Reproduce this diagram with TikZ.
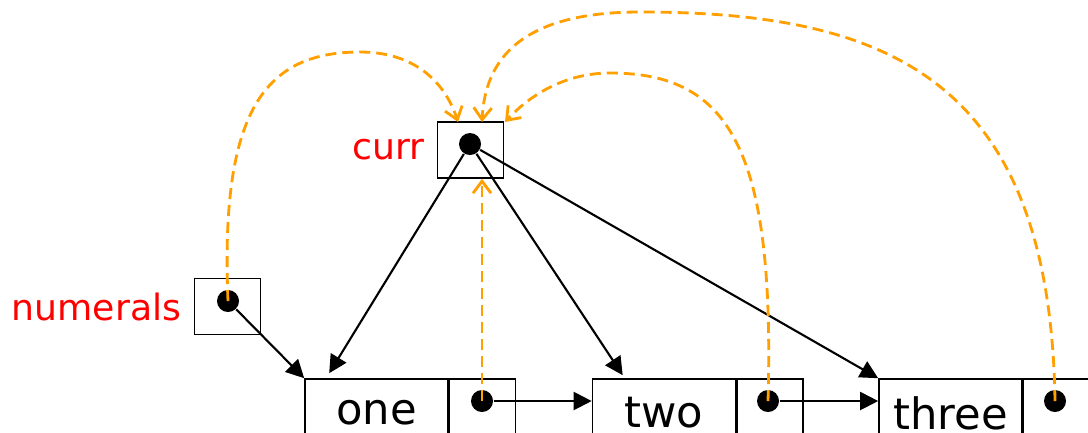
\documentclass[tikz,border=0pt]{standalone}
\usepackage{fontspec}
\setmainfont{DejaVu Sans}
\usepackage{tikz}
\usetikzlibrary{arrows.meta}
\definecolor{ptrorange}{RGB}{255,160,0}
\definecolor{ptrred}{RGB}{255,0,0}

\begin{document}
\begin{tikzpicture}[x=0.01cm, y=-0.01cm,
    ptrbox/.style={draw, line width=0.45pt, minimum width=0.66cm, minimum height=0.56cm, inner sep=0pt},
    valcell/.style={draw, line width=0.45pt, minimum width=1.43cm, minimum height=0.68cm, inner sep=0pt, font=\fontsize{12.3}{14}\selectfont},
    nextcell/.style={draw, line width=0.45pt, minimum width=0.66cm, minimum height=0.68cm, inner sep=0pt},
    ptrdot/.style={circle, fill=black, minimum size=0.22cm, inner sep=0pt},
    ptrlabel/.style={text=ptrred, font=\fontsize{10.3}{12}\selectfont},
    link/.style={line width=0.6pt, -{Triangle[length=1.8mm, width=1.8mm]}},
    refline/.style={ptrorange, line width=0.8pt, dash pattern=on 1.1mm off 0.6mm, -{Straight Barb[length=1.2mm, width=1.8mm]}}]
    \useasboundingbox (0,0) rectangle (1088,432);
    \clip (0,0) rectangle (1088,432);

    % pointers
    \node[ptrbox] (num) at (227.5,306.5) {};
    \node[ptrdot] (numdot) at (228,301) {};
    \node[ptrlabel, left] at (num.west) {numerals};
    \node[ptrbox] (curr) at (470.5,150) {};
    \node[ptrdot] (currdot) at (470,144) {};
    \node[ptrlabel, left] at (curr.west) {curr};

    % list cells
    \node[valcell] (one) at (376.5,413) {one};
    \node[nextcell, anchor=west] (onenext) at (one.east) {};
    \node[ptrdot] (onedot) at (482,401) {};
    \node[valcell] (two) at (664,413) {two};
    \node[nextcell, anchor=west] (twonext) at (two.east) {};
    \node[ptrdot] (twodot) at (768,401) {};
    \node[valcell] (three) at (950.5,413) {three};
    \node[nextcell, anchor=west] (threenext) at (three.east) {};
    \node[ptrdot] (threedot) at (1055,401) {};

    % black links
    \draw[link] (numdot) -- (one.north west);
    \draw[link] (currdot) -- ([xshift=0.25cm, yshift=0.05cm]one.north west);
    \draw[link] (currdot) -- ([xshift=0.31cm, yshift=0.03cm]two.north west);
    \draw[link] (currdot) -- (three.north west);
    \draw[link] (onedot) -- (onedot -| two.west);
    \draw[link] (twodot) -- (twodot -| three.west);

    % curr walks the list
    \coordinate (tipa) at (458,122);
    \coordinate (tipb) at (482,122);
    \coordinate (tipc) at (505,122);
    \draw[refline] (numdot.center) .. controls (220,110) and (265,52) .. (360,52) .. controls (420,52) and (447,88) .. (tipa);
    \draw[refline] (onedot.center) -- (onedot.center |- curr.south);
    \draw[refline] (twodot.center) .. controls (775,150) and (730,73) .. (610,73) .. controls (565,73) and (530,95) .. (tipc);
    \draw[refline] (threedot.center) .. controls (1050,80) and (890,12) .. (640,12) .. controls (520,12) and (485,60) .. (tipb);
\end{tikzpicture}
\end{document}
